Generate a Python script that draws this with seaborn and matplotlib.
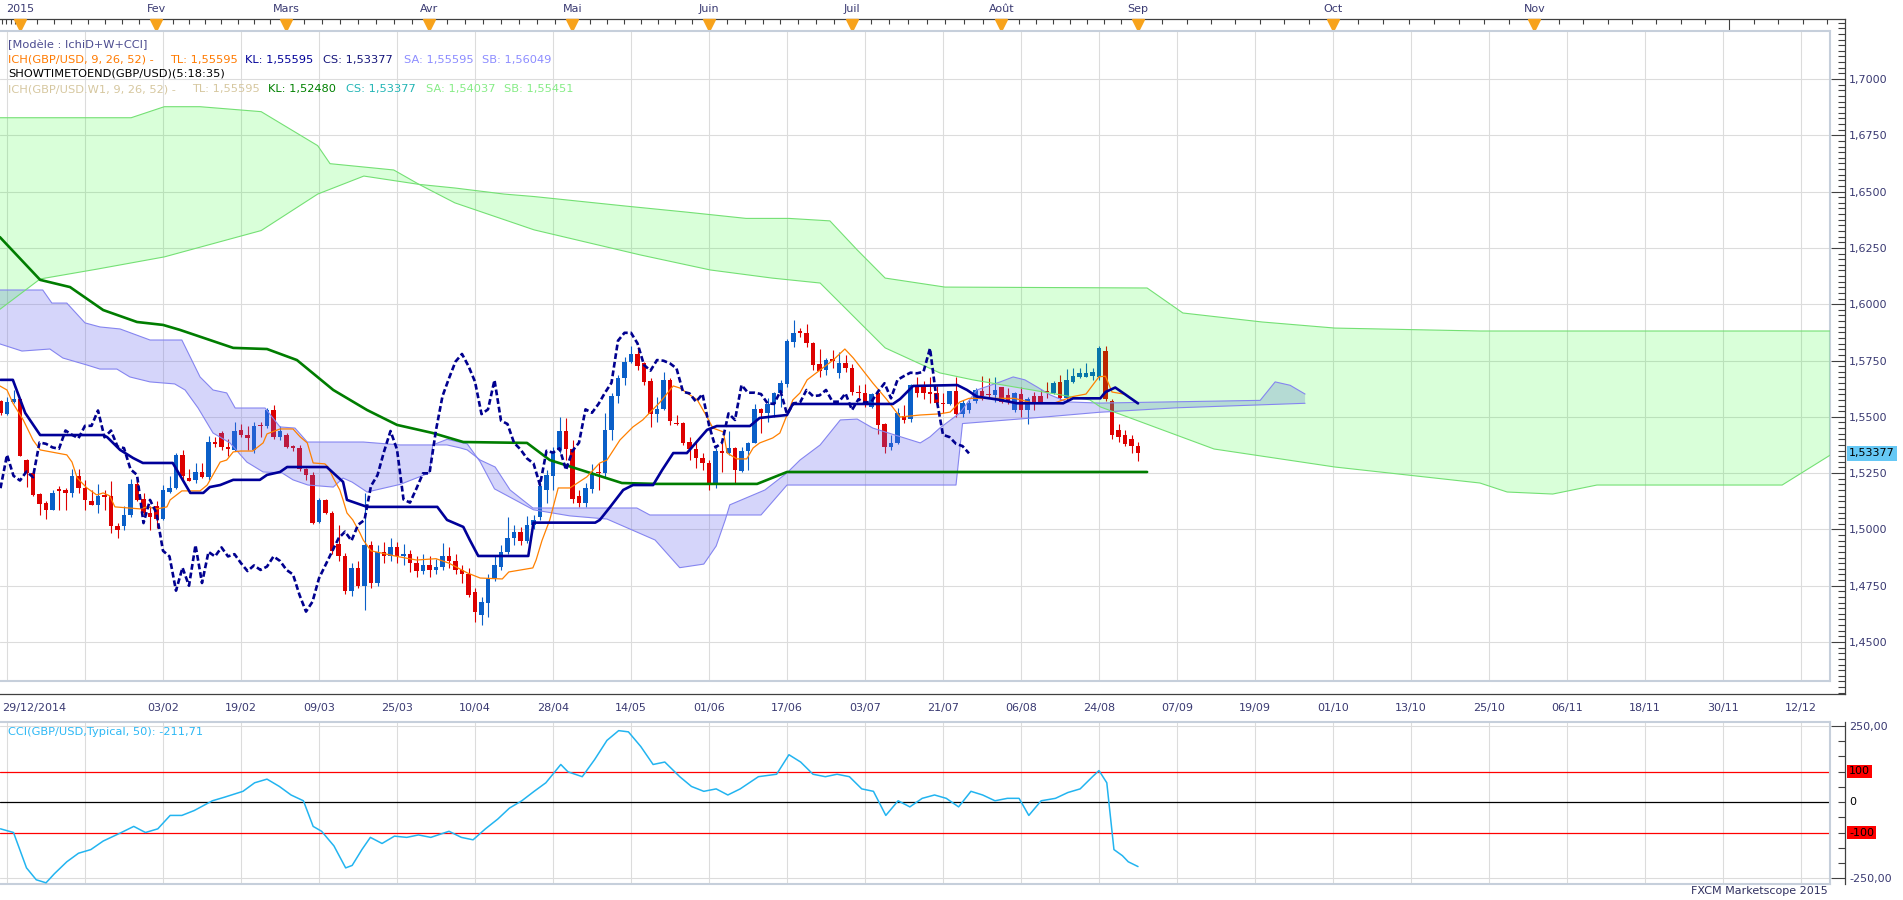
import numpy as np
import matplotlib
matplotlib.use("Agg")
import matplotlib.pyplot as plt
import matplotlib.transforms as mtransforms
from matplotlib.ticker import FuncFormatter
import seaborn as sns

# ------------------------------------------------------------------ data
candle_bar = list(range(1, 177))
candle_open = [
    1.5568, 1.5513, 1.5565, 1.5580, 1.5309, 1.5250, 1.5158, 1.5119, 1.5087, 1.5179,
    1.5176, 1.5161, 1.5235, 1.5183, 1.5128, 1.5109, 1.5152, 1.5149, 1.5016, 1.5013,
    1.5065, 1.5202, 1.5136, 1.5072, 1.5102, 1.5045, 1.5168, 1.5183, 1.5331, 1.5227,
    1.5220, 1.5257, 1.5232, 1.5386, 1.5427, 1.5368, 1.5353, 1.5442, 1.5420, 1.5353,
    1.5463, 1.5457, 1.5531, 1.5409, 1.5420, 1.5372, 1.5361, 1.5267, 1.5242, 1.5035,
    1.5131, 1.5072, 1.4935, 1.4880, 1.4728, 1.4830, 1.4750, 1.4930, 1.4762, 1.4900,
    1.4880, 1.4920, 1.4880, 1.4890, 1.4850, 1.4815, 1.4840, 1.4820, 1.4835, 1.4880,
    1.4860, 1.4820, 1.4800, 1.4722, 1.4620, 1.4672, 1.4783, 1.4834, 1.4900, 1.4960,
    1.4990, 1.4950, 1.5020, 1.5056, 1.5175, 1.5237, 1.5352, 1.5437, 1.5355, 1.5148,
    1.5119, 1.5179, 1.5255, 1.5249, 1.5441, 1.5592, 1.5671, 1.5745, 1.5779, 1.5737,
    1.5659, 1.5512, 1.5533, 1.5663, 1.5474, 1.5474, 1.5389, 1.5355, 1.5315, 1.5293,
    1.5197, 1.5346, 1.5341, 1.5360, 1.5261, 1.5349, 1.5385, 1.5533, 1.5518, 1.5557,
    1.5607, 1.5645, 1.5833, 1.5879, 1.5873, 1.5829, 1.5734, 1.5708, 1.5755, 1.5693,
    1.5740, 1.5715, 1.5610, 1.5607, 1.5545, 1.5604, 1.5468, 1.5364, 1.5382, 1.5505,
    1.5489, 1.5637, 1.5637, 1.5611, 1.5604, 1.5563, 1.5557, 1.5614, 1.5512, 1.5530,
    1.5570, 1.5616, 1.5600, 1.5597, 1.5631, 1.5597, 1.5530, 1.5601, 1.5530, 1.5592,
    1.5592, 1.5616, 1.5607, 1.5656, 1.5582, 1.5656, 1.5678, 1.5678, 1.5681, 1.5678,
    1.5790, 1.5570, 1.5440, 1.5420, 1.5400, 1.5370]
candle_high = [
    1.5575, 1.5590, 1.5620, 1.5583, 1.5312, 1.5257, 1.5161, 1.5124, 1.5173, 1.5193,
    1.5183, 1.5267, 1.5267, 1.5220, 1.5176, 1.5202, 1.5173, 1.5213, 1.5028, 1.5102,
    1.5223, 1.5220, 1.5161, 1.5105, 1.5124, 1.5198, 1.5238, 1.5341, 1.5353, 1.5267,
    1.5297, 1.5297, 1.5415, 1.5412, 1.5439, 1.5401, 1.5479, 1.5469, 1.5457, 1.5479,
    1.5479, 1.5541, 1.5553, 1.5457, 1.5427, 1.5375, 1.5375, 1.5272, 1.5253, 1.5139,
    1.5134, 1.5080, 1.5020, 1.4895, 1.4850, 1.4860, 1.5160, 1.4950, 1.4930, 1.4945,
    1.4960, 1.4945, 1.4935, 1.4910, 1.4880, 1.4890, 1.4880, 1.4870, 1.4940, 1.4920,
    1.4890, 1.4840, 1.4830, 1.4740, 1.4700, 1.4800, 1.4880, 1.4930, 1.5056, 1.5020,
    1.5010, 1.5060, 1.5064, 1.5219, 1.5264, 1.5367, 1.5500, 1.5493, 1.5397, 1.5175,
    1.5204, 1.5290, 1.5293, 1.5518, 1.5604, 1.5685, 1.5767, 1.5814, 1.5808, 1.5745,
    1.5671, 1.5589, 1.5700, 1.5671, 1.5508, 1.5478, 1.5412, 1.5389, 1.5341, 1.5308,
    1.5360, 1.5382, 1.5438, 1.5367, 1.5367, 1.5389, 1.5557, 1.5537, 1.5582, 1.5611,
    1.5663, 1.5844, 1.5930, 1.5893, 1.5912, 1.5833, 1.5799, 1.5759, 1.5796, 1.5789,
    1.5774, 1.5734, 1.5641, 1.5645, 1.5607, 1.5616, 1.5471, 1.5419, 1.5537, 1.5552,
    1.5645, 1.5678, 1.5660, 1.5675, 1.5637, 1.5607, 1.5614, 1.5675, 1.5575, 1.5575,
    1.5627, 1.5681, 1.5671, 1.5675, 1.5634, 1.5627, 1.5610, 1.5634, 1.5590, 1.5612,
    1.5619, 1.5656, 1.5660, 1.5686, 1.5711, 1.5715, 1.5715, 1.5738, 1.5715, 1.5815,
    1.5815, 1.5580, 1.5470, 1.5440, 1.5420, 1.5390]
candle_low = [
    1.5510, 1.5509, 1.5563, 1.5328, 1.5190, 1.5149, 1.5065, 1.5045, 1.5084, 1.5087,
    1.5087, 1.5146, 1.5161, 1.5087, 1.5109, 1.5072, 1.5087, 1.4983, 1.4961, 1.4998,
    1.5057, 1.5128, 1.5065, 1.4998, 1.5005, 1.5042, 1.5161, 1.5179, 1.5220, 1.5213,
    1.5208, 1.5227, 1.5220, 1.5368, 1.5353, 1.5324, 1.5346, 1.5412, 1.5353, 1.5341,
    1.5412, 1.5449, 1.5401, 1.5398, 1.5361, 1.5350, 1.5261, 1.5220, 1.5025, 1.5030,
    1.5069, 1.4890, 1.4860, 1.4715, 1.4705, 1.4740, 1.4640, 1.4740, 1.4750, 1.4850,
    1.4860, 1.4850, 1.4840, 1.4810, 1.4790, 1.4800, 1.4790, 1.4800, 1.4820, 1.4830,
    1.4800, 1.4760, 1.4700, 1.4590, 1.4575, 1.4612, 1.4770, 1.4820, 1.4890, 1.4930,
    1.4930, 1.4940, 1.5000, 1.5042, 1.5116, 1.5175, 1.5338, 1.5308, 1.5116, 1.5101,
    1.5101, 1.5160, 1.5175, 1.5234, 1.5397, 1.5560, 1.5641, 1.5737, 1.5708, 1.5641,
    1.5453, 1.5478, 1.5530, 1.5463, 1.5465, 1.5375, 1.5308, 1.5271, 1.5264, 1.5175,
    1.5185, 1.5256, 1.5330, 1.5204, 1.5256, 1.5264, 1.5382, 1.5426, 1.5478, 1.5500,
    1.5545, 1.5634, 1.5808, 1.5853, 1.5811, 1.5708, 1.5678, 1.5685, 1.5715, 1.5671,
    1.5700, 1.5597, 1.5574, 1.5545, 1.5537, 1.5423, 1.5338, 1.5352, 1.5379, 1.5471,
    1.5478, 1.5589, 1.5577, 1.5563, 1.5545, 1.5515, 1.5552, 1.5500, 1.5500, 1.5515,
    1.5560, 1.5575, 1.5582, 1.5567, 1.5560, 1.5555, 1.5520, 1.5500, 1.5470, 1.5530,
    1.5560, 1.5582, 1.5600, 1.5575, 1.5575, 1.5650, 1.5671, 1.5678, 1.5664, 1.5664,
    1.5570, 1.5400, 1.5390, 1.5370, 1.5340, 1.5305]
candle_close = [
    1.5516, 1.5565, 1.5580, 1.5328, 1.5250, 1.5153, 1.5113, 1.5087, 1.5161, 1.5171,
    1.5161, 1.5235, 1.5183, 1.5131, 1.5109, 1.5149, 1.5146, 1.5013, 1.4998, 1.5065,
    1.5202, 1.5131, 1.5072, 1.5054, 1.5045, 1.5173, 1.5183, 1.5331, 1.5238, 1.5217,
    1.5257, 1.5232, 1.5386, 1.5380, 1.5364, 1.5358, 1.5439, 1.5420, 1.5405, 1.5460,
    1.5460, 1.5528, 1.5409, 1.5439, 1.5368, 1.5361, 1.5267, 1.5242, 1.5028, 1.5131,
    1.5072, 1.4905, 1.4880, 1.4728, 1.4830, 1.4750, 1.4930, 1.4762, 1.4900, 1.4880,
    1.4920, 1.4880, 1.4890, 1.4850, 1.4815, 1.4840, 1.4820, 1.4835, 1.4880, 1.4860,
    1.4820, 1.4800, 1.4709, 1.4635, 1.4679, 1.4783, 1.4842, 1.4900, 1.4960, 1.4990,
    1.4950, 1.5020, 1.5042, 1.5193, 1.5241, 1.5345, 1.5437, 1.5355, 1.5133, 1.5119,
    1.5182, 1.5249, 1.5249, 1.5441, 1.5592, 1.5671, 1.5745, 1.5779, 1.5725, 1.5656,
    1.5512, 1.5533, 1.5663, 1.5483, 1.5468, 1.5385, 1.5355, 1.5315, 1.5293, 1.5197,
    1.5349, 1.5341, 1.5360, 1.5264, 1.5349, 1.5385, 1.5533, 1.5518, 1.5557, 1.5607,
    1.5651, 1.5838, 1.5873, 1.5873, 1.5826, 1.5730, 1.5705, 1.5752, 1.5749, 1.5737,
    1.5715, 1.5611, 1.5604, 1.5567, 1.5601, 1.5463, 1.5364, 1.5385, 1.5515, 1.5486,
    1.5641, 1.5607, 1.5607, 1.5601, 1.5560, 1.5557, 1.5614, 1.5512, 1.5560, 1.5563,
    1.5619, 1.5592, 1.5595, 1.5619, 1.5567, 1.5567, 1.5604, 1.5530, 1.5578, 1.5563,
    1.5567, 1.5612, 1.5649, 1.5582, 1.5664, 1.5681, 1.5696, 1.5693, 1.5700, 1.5804,
    1.5580, 1.5420, 1.5410, 1.5380, 1.5370, 1.53377]
chikou_shift = 26

tenkan_bar = [0.9, 2, 2.9, 4.5, 6, 7.1, 11.2, 12, 12.8, 14.3, 15.8, 16.8, 17.8, 18.6, 22.5,
              23.5, 25.1, 26.6, 27.1, 28.9, 31.7, 32.8, 34.8, 35.8, 36.8, 37.9, 39.8, 41.4,
              42, 44, 46, 47.1, 48.2, 49.1, 50.9, 51.4, 52.2, 53.2, 53.7, 54.3, 55.2, 56.3,
              56.8, 58, 62, 65, 68, 70, 72.8, 74.8, 78.2, 79.2, 82.9, 83.4, 84.3, 85.5,
              86.8, 88.6, 91.2, 93.2, 94.3, 96.3, 98.3, 99.8, 102.5, 104.5, 105.5, 106.6,
              108.2, 109.7, 110.6, 112.2, 112.8, 114.3, 115.8, 116.8, 117.8, 119.8, 120.9,
              122, 122.9, 124, 125.1, 127.1, 129.1, 130.9, 132.2, 135.2, 137.4, 139.4,
              142.5, 145.5, 147.1, 148.6, 150, 157, 160, 163, 166, 168, 170, 171, 172,
              174, 176]
tenkan_val = [1.5637, 1.5619, 1.5561, 1.5486, 1.5397, 1.5353, 1.5331, 1.5299, 1.5228, 1.5184,
              1.5153, 1.5162, 1.5149, 1.5100, 1.5091, 1.5100, 1.5091, 1.5100, 1.5131, 1.5171,
              1.5171, 1.5197, 1.5299, 1.5308, 1.5344, 1.5348, 1.5348, 1.5384, 1.5424, 1.5446,
              1.5446, 1.5411, 1.5384, 1.5295, 1.5291, 1.5277, 1.5228, 1.5175, 1.5131, 1.5073,
              1.5042, 1.4984, 1.4953, 1.4905, 1.4880, 1.4864, 1.4870, 1.4850, 1.4807, 1.4784,
              1.4780, 1.4811, 1.4829, 1.4864, 1.4950, 1.5042, 1.5184, 1.5184, 1.5233, 1.5295,
              1.5308, 1.5397, 1.5455, 1.5486, 1.5566, 1.5637, 1.5628, 1.5606, 1.5575, 1.5499,
              1.5450, 1.5433, 1.5339, 1.5313, 1.5313, 1.5362, 1.5384, 1.5406, 1.5428, 1.5508,
              1.5575, 1.5606, 1.5664, 1.5708, 1.5752, 1.5801, 1.5761, 1.5650, 1.5575, 1.5499,
              1.5508, 1.5513, 1.5521, 1.5566, 1.5582, 1.5582, 1.5560, 1.5560, 1.5590, 1.5601,
              1.5678, 1.5680, 1.5610, 1.5600, 1.55595]

kijun_bar = [1, 2.9, 4.8, 7.1, 16.8, 17.4, 19.4, 21.4, 22.9, 27.5, 30.2, 32.2, 33.2, 34.8,
             36.8, 40.9, 42, 44, 45.1, 51.2, 53.7, 54.3, 57.4, 68.2, 69.7, 72.2, 73.2, 74.5,
             82.2, 83, 92.5, 93.2, 94.8, 96.8, 98.3, 101.4, 102.8, 104.5, 106.6, 109.7, 111.2,
             116.3, 117.8, 122, 122.9, 138.3, 139.4, 141.4, 148.2, 149.7, 151.2, 154.8, 157.4,
             164.5, 166, 170.2, 171, 172.5, 174, 176]
kijun_val = [1.5664, 1.5664, 1.5517, 1.5419, 1.5419, 1.5410, 1.5353, 1.5317, 1.5295, 1.5295,
             1.5162, 1.5162, 1.5188, 1.5197, 1.5220, 1.5220, 1.5242, 1.5255, 1.5277, 1.5277,
             1.5211, 1.5131, 1.5100, 1.5100, 1.5042, 1.5011, 1.4953, 1.4882, 1.4882, 1.5030,
             1.5030, 1.5042, 1.5100, 1.5175, 1.5197, 1.5197, 1.5264, 1.5339, 1.5339, 1.5442,
             1.5459, 1.5459, 1.5495, 1.5508, 1.5557, 1.5557, 1.5579, 1.5637, 1.5641, 1.5619,
             1.5590, 1.5575, 1.5560, 1.5560, 1.5582, 1.5582, 1.5610, 1.5630, 1.5600, 1.55595]

span_a_bar = [0, 4.3, 8.6, 10.6, 14.3, 16.3, 18.9, 20.9, 24, 27.8, 29.4, 31.4, 33.7, 36.3,
              38.9, 41.4, 44.3, 46, 48.3, 52.2, 53.7, 55.1, 57.4, 62.5, 67, 67.5, 69.7, 72.8,
              74.8, 77, 83, 88.6, 94.3, 101.7, 105.5, 109.2, 111.1, 112.5, 113.2, 118.6, 122,
              124, 127.1, 130.2, 132.8, 135.2, 142.5, 144, 145.5, 148.6, 151.2, 154.8, 156.8,
              158.6, 160.5, 162.5, 165.1, 170.2, 194.8, 197.1, 199.4, 201.7]
span_a_val = [1.5832, 1.5792, 1.5801, 1.5761, 1.5730, 1.5712, 1.5712, 1.5677, 1.5655, 1.5646,
              1.5619, 1.5539, 1.5428, 1.5384, 1.5299, 1.5255, 1.5251, 1.5220, 1.5197, 1.5188,
              1.5228, 1.5210, 1.5166, 1.5200, 1.5251, 1.5375, 1.5400, 1.5380, 1.5300, 1.5180,
              1.5087, 1.5060, 1.5046, 1.4953, 1.4830, 1.4846, 1.4926, 1.5042, 1.5109, 1.5175,
              1.5251, 1.5308, 1.5375, 1.5486, 1.5490, 1.5450, 1.5384, 1.5411, 1.5450, 1.5517,
              1.5619, 1.5655, 1.5677, 1.5664, 1.5632, 1.5597, 1.5566, 1.5561, 1.5573, 1.5655,
              1.5640, 1.5601]
span_b_bar = [0, 7.5, 8.9, 11.2, 14, 16.3, 19.4, 24, 28.9, 31.7, 33.7, 35.8, 37.1, 41.7, 44,
              46.3, 48.2, 56.8, 62.5, 69.7, 71.7, 72.8, 74.8, 77.1, 79.4, 82.9, 98.9, 100.9,
              118, 122, 148, 149, 162, 170, 182, 201.7]
span_b_val = [1.6063, 1.6063, 1.6005, 1.6005, 1.5917, 1.5899, 1.5890, 1.5841, 1.5841, 1.5677,
              1.5619, 1.5606, 1.5539, 1.5539, 1.5455, 1.5450, 1.5388, 1.5388, 1.5375, 1.5375,
              1.5362, 1.5353, 1.5308, 1.5277, 1.5175, 1.5095, 1.5095, 1.5064, 1.5064, 1.5197,
              1.5197, 1.5470, 1.5500, 1.5520, 1.5540, 1.5560]

w_kijun_bar = [0.9, 7.1, 11.7, 16.8, 22, 26, 28.6, 36.8, 42, 46.6, 52.2, 57.4, 62, 67.5, 72.2,
               82, 85.5, 96.6, 102, 117.4, 122, 177.4]
w_kijun_val = [1.6298, 1.6108, 1.6076, 1.5974, 1.5921, 1.5908, 1.5886, 1.5806, 1.5801, 1.5752,
               1.5619, 1.5530, 1.5464, 1.5428, 1.5388, 1.5384, 1.5308, 1.5206, 1.5202, 1.5202,
               1.5255, 1.5255]
w_span_a_bar = [0.9, 21.1, 26.2, 31.7, 41.1, 49.8, 51.7, 61.5, 65.4, 70.9, 83.1, 99.4, 110.2,
                119.7, 127.1, 137.1, 145.5, 150.6, 168.6, 170.2, 187.7, 206.3, 228.6, 232.8,
                239.8, 246.6, 275.1, 282.5]
w_span_a_val = [1.6828, 1.6828, 1.6877, 1.6877, 1.6855, 1.6704, 1.6624, 1.6596, 1.6532, 1.6450,
                1.6330, 1.6219, 1.6152, 1.6116, 1.6094, 1.5806, 1.5695, 1.5664, 1.5575, 1.5544,
                1.5357, 1.5277, 1.5206, 1.5166, 1.5157, 1.5197, 1.5197, 1.5330]
w_span_b_bar = [0.9, 7.1, 15.9, 26.2, 41.1, 49.8, 56.9, 65.4, 70.9, 78.5, 83.1, 97.1, 106.5,
                115.7, 122.3, 128.6, 132.8, 137.1, 146.3, 177.4, 182.9, 195.1, 206.3, 228.6,
                282.5]
w_span_b_val = [1.5977, 1.6112, 1.6156, 1.6210, 1.6327, 1.6489, 1.6569, 1.6532, 1.6516, 1.6489,
                1.6478, 1.6436, 1.6409, 1.6381, 1.6381, 1.6370, 1.6241, 1.6116, 1.6076, 1.6072,
                1.5961, 1.5921, 1.5894, 1.5881, 1.5881]

cci_bar = [1, 3, 5, 6.5, 8, 9.3, 11.2, 13, 14.9, 16.8, 19.6, 21.5, 23.3, 25.2, 27.1, 28.9, 30.8,
           33.6, 35.5, 38.3, 40.1, 42, 43.9, 45.7, 47.6, 49.1, 50.4, 52.3, 54.1, 55.1, 56.6,
           57.9, 59.7, 61.6, 63.5, 65.3, 67.2, 70, 71.9, 73.7, 75.6, 77.5, 79.3, 81.2, 83.1,
           84.9, 87.2, 88.3, 90.5, 92.4, 94.3, 96.1, 97.6, 99.5, 101.4, 103.2, 105.5, 107.3,
           109.2, 111.1, 112.9, 114.8, 117.6, 120.4, 122.3, 124.1, 126, 127.9, 129.7, 131.6,
           133.5, 135.3, 137.2, 139.1, 140.9, 142.8, 144.7, 146.5, 148.4, 150.3, 152.1, 154,
           155.9, 157.7, 159.2, 161.1, 163.3, 165.2, 167.1, 169, 170, 171.2, 172.3, 173.6,
           174.5, 176]
cci_val = [-88, -100, -216, -255, -265, -235, -196, -168, -156, -128, -100, -80, -100, -88,
           -44, -44, -28, 4, 16, 35, 63, 75, 51, 23, 4, -80, -96, -144, -216, -208, -156, -116,
           -136, -112, -116, -108, -116, -96, -116, -124, -88, -56, -20, 4, 35, 63, 123, 99, 83,
           139, 202, 234, 230, 182, 123, 131, 83, 51, 35, 43, 23, 43, 83, 91, 155, 131, 91, 83,
           91, 83, 43, 35, -44, 4, -16, 12, 23, 12, -16, 35, 23, 4, 12, 12, -44, 4, 12, 31, 43,
           83, 103, 63, -156, -176, -196, -211.71]

date_tick_bar = list(range(2, 279, 12))
date_tick_label = ['', '', '03/02', '19/02', '09/03', '25/03', '10/04', '28/04', '14/05',
                   '01/06', '17/06', '03/07', '21/07', '06/08', '24/08', '07/09', '19/09',
                   '01/10', '13/10', '25/10', '06/11', '18/11', '30/11', '12/12']
first_date_label = '29/12/2014'
month_bar = [4, 25, 45, 67, 89, 110, 132, 155, 176, 206, 237, 267]
month_label = ['2015', 'Fev', 'Mars', 'Avr', 'Mai', 'Juin', 'Juil', 'Août', 'Sep', 'Oct',
               'Nov', '']
price_ticks = [1.45, 1.475, 1.50, 1.525, 1.55, 1.575, 1.60, 1.625, 1.65, 1.675, 1.70]
cci_ticks = [250, -250]
cci_levels = [100, 0, -100]

legend_rows = [
    [(8, 45, '[Modèle : IchiD+W+CCI]', '#4b4b8f')],
    [(8, 60, 'ICH(GBP/USD, 9, 26, 52) -', '#ff7a00'), (170, 60, 'TL: 1,55595', '#ff7a00'),
     (245, 60, 'KL: 1,55595', '#000099'), (323, 60, 'CS: 1,53377', '#14147a'),
     (404, 60, 'SA: 1,55595', '#8c8cff'), (482, 60, 'SB: 1,56049', '#8c8cff')],
    [(8, 74, 'SHOWTIMETOEND(GBP/USD)(5:18:35)', '#000000')],
    [(8, 89, 'ICH(GBP/USD.W1, 9, 26, 52) -', '#d6c79f'), (192, 89, 'TL: 1,55595', '#d6c79f'),
     (268, 89, 'KL: 1,52480', '#008000'), (346, 89, 'CS: 1,53377', '#22b5b5'),
     (426, 89, 'SA: 1,54037', '#86ec86'), (504, 89, 'SB: 1,55451', '#86ec86')],
]

# ------------------------------------------------------------------ style
sns.set_style("white")
plt.rcParams['font.family'] = ['DejaVu Sans']
plt.rcParams['font.size'] = 8

W, H, DPI = 1903, 900, 100
BLUE_C, RED_C = '#0a5fc8', '#dd0000'
AXC, LBLC, FRAMEC, GRIDC = '#404040', '#3a3a72', '#c6cfdb', '#dcdcdc'

fig = plt.figure(figsize=(W / DPI, H / DPI), dpi=DPI, facecolor='white')


def rect(x0, y0, x1, y1):
    return [x0 / W, 1 - y1 / H, (x1 - x0) / W, (y1 - y0) / H]


def bar_at(px):
    return (px + 6.0) / 6.5


def price_at(py):
    return 1.7 - (py - 79) * 0.025 / 56.3


def cci_at(py):
    return (802 - py) / 0.305


comma4 = FuncFormatter(lambda v, p: f"{v:.4f}".replace('.', ','))
comma2 = FuncFormatter(lambda v, p: f"{v:.2f}".replace('.', ','))

# ------------------------------------------------------------------ main panel
ax = fig.add_axes(rect(0, 31, 1830, 681))
ax.set_zorder(2)
o = np.array(candle_open)
h = np.array(candle_high)
l = np.array(candle_low)
c = np.array(candle_close)
b = np.array(candle_bar)
cols = np.where(c >= o, BLUE_C, RED_C)
ax.vlines(b, l, h, colors=cols, lw=0.8, zorder=2)
ax.bar(b, np.maximum(np.abs(c - o), 0.0003), bottom=np.minimum(o, c), width=0.7,
       color=cols, lw=0, zorder=2.1)


def cloud(axis, xa, ya, xb, yb, color, alpha, edge):
    px = np.concatenate([np.array(xa), np.array(xb)[::-1]])
    py = np.concatenate([np.array(ya), np.array(yb)[::-1]])
    axis.fill(px, py, color=color, alpha=alpha, lw=0, zorder=3)
    for xs, ys in ((xa, ya), (xb, yb)):
        sns.lineplot(x=xs, y=ys, ax=axis, color=edge, linewidth=0.8, estimator=None,
                     sort=False, zorder=3.2)


cloud(ax, span_a_bar, span_a_val, span_b_bar, span_b_val, (0.40, 0.40, 0.93), 0.27, '#8585f0')
cloud(ax, w_span_a_bar, w_span_a_val, w_span_b_bar, w_span_b_val, (0.0, 1.0, 0.0), 0.15,
      '#74e074')

sns.lineplot(x=w_kijun_bar, y=w_kijun_val, ax=ax, color='#007d00', linewidth=1.9,
             estimator=None, sort=False, zorder=4)
sns.lineplot(x=tenkan_bar, y=tenkan_val, ax=ax, color='#ff8000', linewidth=0.9,
             estimator=None, sort=False, zorder=4.2)
sns.lineplot(x=kijun_bar, y=kijun_val, ax=ax, color='#000099', linewidth=1.9,
             estimator=None, sort=False, zorder=4.3)
sns.lineplot(x=b[:-chikou_shift], y=c[chikou_shift:], ax=ax, color='#00008f',
             linewidth=1.9, linestyle=(0, (2.2, 1.1)), estimator=None, sort=False, zorder=4.4)

ax.set_xlim(bar_at(0), bar_at(1830))
ax.set_ylim(price_at(681), price_at(31))
ax.set_xticks(date_tick_bar)
ax.set_yticks(price_ticks)
ax.tick_params(length=0, labelbottom=False, labelleft=False)
ax.grid(True, color=GRIDC, lw=0.8)
ax.set_axisbelow(True)
ax.set_xlabel('')
ax.set_ylabel('')
for s in ('top', 'right', 'bottom'):
    ax.spines[s].set_color(FRAMEC)
    ax.spines[s].set_linewidth(1.5)
ax.spines['left'].set_visible(False)

# outer axis (bottom dates, right prices)
axo = fig.add_axes(rect(0, 19, 1845, 694))
axo.set_zorder(1)
axo.patch.set_visible(False)
axo.set_xlim(bar_at(0), bar_at(1845))
axo.set_ylim(price_at(694), price_at(19))
for s in ('left', 'top'):
    axo.spines[s].set_visible(False)
for s in ('right', 'bottom'):
    axo.spines[s].set_color(AXC)
    axo.spines[s].set_linewidth(0.9)
axo.yaxis.tick_right()
axo.set_yticks(price_ticks)
axo.set_yticks(np.arange(1.4275, 1.7266, 0.0025), minor=True)
axo.yaxis.set_major_formatter(comma4)
axo.tick_params(axis='y', which='major', direction='in', length=10, width=0.8, color=AXC,
                pad=3, labelsize=8, labelcolor=LBLC, left=False, right=True)
axo.tick_params(axis='y', which='minor', direction='in', length=5, width=0.8, color=AXC,
                left=False, right=True)
axo.set_xticks(date_tick_bar, labels=date_tick_label)
minor_x = [t + k * 1.5 for t in range(-10, 284, 12) for k in range(1, 8)]
axo.set_xticks([m for m in minor_x if 1 < m < 284.7], minor=True)
axo.tick_params(axis='x', which='major', direction='in', length=9.4, width=0.8, color=AXC,
                pad=6.5, labelsize=8, labelcolor=LBLC, top=False)
axo.tick_params(axis='x', which='minor', direction='in', length=4.3, width=0.8, color=AXC,
                top=False)
fig.text(2 / W, 1 - 708 / H, first_date_label, ha='left', va='center', fontsize=8,
         color=LBLC)

# top axis (months)
axt = fig.add_axes(rect(0, 19, 1845, 694))
axt.set_zorder(1)
axt.patch.set_visible(False)
axt.set_xlim(bar_at(0), bar_at(1845))
axt.set_ylim(0, 1)
for s in ('left', 'right', 'bottom'):
    axt.spines[s].set_visible(False)
axt.spines['top'].set_color(AXC)
axt.spines['top'].set_linewidth(0.9)
axt.set_yticks([])
axt.xaxis.set_ticks_position('top')
axt.set_xticks(month_bar, labels=month_label)
mb = [bar_at(0) - 2.6] + month_bar + [297]
minor_top = []
for a0, a1 in zip(mb[:-1], mb[1:]):
    step = (a1 - a0) / 8.0
    minor_top += [a0 + k * step for k in range(1, 8)]
axt.set_xticks([m for m in minor_top if 0.95 < m < 284.7], minor=True)
axt.tick_params(axis='x', which='major', direction='in', length=9.4, width=0.8, color=AXC,
                pad=3.5, labelsize=8, labelcolor=LBLC, top=True, bottom=False,
                labeltop=True, labelbottom=False)
axt.tick_params(axis='x', which='minor', direction='in', length=3.6, width=0.8, color=AXC,
                top=True, bottom=False)
tri = mtransforms.blended_transform_factory(axt.transData, axt.transAxes)
axt.plot(month_bar[:11], [0.9911] * 11, transform=tri, ls='none', marker='v', ms=8,
         color='#f7a21b', mec='#f7a21b', clip_on=False, zorder=5)

# legend text
for row in legend_rows:
    for (xp, yp, txt, col) in row:
        fig.text(xp / W, 1 - yp / H, txt, ha='left', va='center', fontsize=8.2, color=col)

# last price tag
tr_price = mtransforms.blended_transform_factory(fig.transFigure, ax.transData)
fig.text(1849 / W, candle_close[-1], f"{candle_close[-1]:.5f}".replace('.', ','),
         transform=tr_price, ha='left', va='center', fontsize=8, color='#000000',
         bbox=dict(boxstyle='square,pad=0.22', fc='#66c8f5', ec='none'))

# ------------------------------------------------------------------ CCI panel
axc = fig.add_axes(rect(0, 722, 1830, 884))
axc.set_zorder(2)
sns.lineplot(x=cci_bar, y=cci_val, ax=axc, color='#22b4f0', linewidth=1.1, estimator=None,
             sort=False, zorder=4)
for lv in cci_levels:
    axc.axhline(lv, color='#ff0000' if lv else '#000000', lw=0.9, zorder=2)
axc.set_xlim(bar_at(0), bar_at(1830))
axc.set_ylim(cci_at(884), cci_at(722))
axc.set_xticks(date_tick_bar)
axc.set_yticks(cci_ticks)
axc.tick_params(length=0, labelbottom=False, labelleft=False)
axc.grid(True, color=GRIDC, lw=0.8)
axc.set_axisbelow(True)
axc.set_xlabel('')
axc.set_ylabel('')
for s in ('top', 'right', 'bottom'):
    axc.spines[s].set_color(FRAMEC)
    axc.spines[s].set_linewidth(1.5)
axc.spines['left'].set_visible(False)

axco = fig.add_axes(rect(0, 722, 1845, 884))
axco.set_zorder(1)
axco.patch.set_visible(False)
axco.set_xlim(bar_at(0), bar_at(1845))
axco.set_ylim(cci_at(884), cci_at(722))
for s in ('left', 'top', 'bottom'):
    axco.spines[s].set_visible(False)
axco.spines['right'].set_color(AXC)
axco.spines['right'].set_linewidth(0.9)
axco.set_xticks([])
axco.yaxis.tick_right()
axco.set_yticks(cci_ticks)
axco.set_yticks(np.arange(-250, 251, 50), minor=True)
axco.yaxis.set_major_formatter(comma2)
axco.tick_params(axis='y', which='major', direction='in', length=10, width=0.8, color=AXC,
                 pad=3, labelsize=8, labelcolor=LBLC, left=False, right=True)
axco.tick_params(axis='y', which='minor', direction='in', length=5, width=0.8, color=AXC,
                 left=False, right=True)

tr_cci = mtransforms.blended_transform_factory(fig.transFigure, axc.transData)
for lv in cci_levels:
    kw = dict(boxstyle='square,pad=0.15', fc='#ff0000', ec='none') if lv else None
    fig.text(1849 / W, lv, f"{lv}", transform=tr_cci, ha='left', va='center', fontsize=8,
             color='#000000', bbox=kw)

fig.text(8 / W, 1 - 732 / H, f"CCI(GBP/USD.Typical, 50): {cci_val[-1]:.2f}".replace('.', ','),
         ha='left', va='center', fontsize=8.2, color='#2cb8f5')
fig.text(1828 / W, 1 - 891 / H, 'FXCM Marketscope 2015', ha='right', va='center',
         fontsize=8, color='#303060')

fig.savefig('out.png', dpi=DPI, facecolor='white')
